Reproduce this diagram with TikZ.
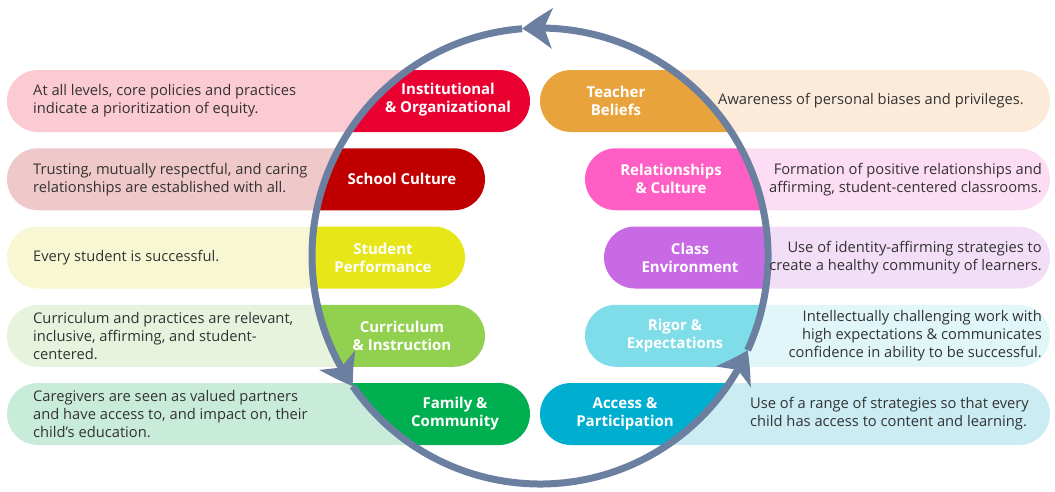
\documentclass[tikz,border=0pt]{standalone}
\usepackage{fontspec}
\setmainfont{Open Sans}
\usetikzlibrary{arrows.meta,bending}
\definecolor{ring}{HTML}{6B7FA0}
\definecolor{txt}{HTML}{333333}
\definecolor{cA}{HTML}{EA0030}\definecolor{lA}{HTML}{FBCAD3}
\definecolor{cB}{HTML}{C00000}\definecolor{lB}{HTML}{EFC8C9}
\definecolor{cC}{HTML}{E6E619}\definecolor{lC}{HTML}{F7F8D3}
\definecolor{cD}{HTML}{92D050}\definecolor{lD}{HTML}{E7F3DD}
\definecolor{cE}{HTML}{00B050}\definecolor{lE}{HTML}{C9EBDA}
\definecolor{cF}{HTML}{E8A33D}\definecolor{lF}{HTML}{FBEBD8}
\definecolor{cG}{HTML}{FF5EC4}\definecolor{lG}{HTML}{FDDDF3}
\definecolor{cH}{HTML}{C86AE4}\definecolor{lH}{HTML}{F2DEF6}
\definecolor{cI}{HTML}{7EDDE8}\definecolor{lI}{HTML}{E1F6F9}
\definecolor{cJ}{HTML}{00AED0}\definecolor{lJ}{HTML}{CBECF3}
\tikzset{
  desc/.style={text=txt,font=\fontsize{14.7}{18}\selectfont,inner sep=0pt},
  lbl/.style={text=white,font=\bfseries\fontsize{15}{18}\selectfont,align=center,inner sep=0pt},
  ringline/.style={draw=ring,line width=7pt,-{Stealth[length=30pt,width=40pt,inset=8pt,bend]}}
}
\begin{document}
\begin{tikzpicture}[x=1pt,y=1pt]
\useasboundingbox (0,0) rectangle (1055,-491);
% rows: centres
\def\rA{-101}\def\rB{-179.25}\def\rC{-257.5}\def\rD{-335.75}\def\rE{-414}
% light pills left
\foreach \r/\c in {\rA/lA,\rB/lB,\rC/lC,\rD/lD,\rE/lE}{
  \fill[\c,rounded corners=31pt] (7,\r+31) rectangle (560,\r-31);}
% light pills right
\foreach \r/\c in {\rA/lF,\rB/lG,\rC/lH,\rD/lI,\rE/lJ}{
  \fill[\c,rounded corners=31pt] (520,\r+31) rectangle (1050,\r-31);}
% circle interior
\coordinate (ctr) at (540,-256);
\fill[white] (ctr) circle[radius=228];
% coloured pills clipped to the circle
\begin{scope}
\clip (ctr) circle[radius=228];
\fill[cA,rounded corners=31pt] (250,\rA+31) rectangle (530,\rA-31);
\fill[cB,rounded corners=31pt] (250,\rB+31) rectangle (485,\rB-31);
\fill[cC,rounded corners=31pt] (250,\rC+31) rectangle (465,\rC-31);
\fill[cD,rounded corners=31pt] (250,\rD+31) rectangle (485,\rD-31);
\fill[cE,rounded corners=31pt] (250,\rE+31) rectangle (530,\rE-31);
\fill[cF,rounded corners=31pt] (540,\rA+31) rectangle (830,\rA-31);
\fill[cG,rounded corners=31pt] (585,\rB+31) rectangle (830,\rB-31);
\fill[cH,rounded corners=31pt] (604,\rC+31) rectangle (830,\rC-31);
\fill[cI,rounded corners=31pt] (585,\rD+31) rectangle (830,\rD-31);
\fill[cJ,rounded corners=31pt] (540,\rE+31) rectangle (830,\rE-31);
\end{scope}
% ring with arrows (counter-clockwise)
\draw[ringline] (ctr) ++(214.8:228) arc[start angle=214.8,end angle=335.6,radius=228];
\draw[ringline] (ctr) ++(-24.4:228) arc[start angle=-24.4,end angle=94.5,radius=228];
\draw[ringline] (ctr) ++(94.5:228) arc[start angle=94.5,end angle=214.8,radius=228];
% coloured labels
\node[lbl] (inst) at (448,-100) {Institutional\\\& Organizational};
\node[lbl] (school) at (402,\rB) {School Culture};
\node[lbl] (stud) at (383,\rC) {Student\\Performance};
\node[lbl] (curr) at (402,\rD) {Curriculum\\\& Instruction};
\node[lbl] (fam) at (455,\rE) {Family \&\\Community};
\node[lbl] (teach) at (616,\rA) {Teacher\\Beliefs};
\node[lbl] (rel) at (671,\rB) {Relationships\\\& Culture};
\node[lbl] (class) at (690,\rC) {Class\\Environment};
\node[lbl] (rigor) at (675,\rD) {Rigor \&\\Expectations};
\node[lbl] (access) at (625,\rE) {Access \&\\Participation};
% descriptions left
\node[desc,anchor=west,align=left] (dA) at (33,\rA) {At all levels, core policies and practices\\indicate a prioritization of equity.};
\node[desc,anchor=west,align=left] (dB) at (33,\rB) {Trusting, mutually respectful, and caring\\relationships are established with all.};
\node[desc,anchor=west,align=left] (dC) at (33,\rC) {Every student is successful.};
\node[desc,anchor=west,align=left] (dD) at (33,\rD) {Curriculum and practices are relevant,\\inclusive, affirming, and student-\\centered.};
\node[desc,anchor=west,align=left] (dE) at (33,\rE) {Caregivers are seen as valued partners\\and have access to, and impact on, their\\child’s education.};
% descriptions right
\node[desc,anchor=west,align=left] (dF) at (718,\rA) {Awareness of personal biases and privileges.};
\node[desc,anchor=east,align=right] (dG) at (1042,\rB) {Formation of positive relationships and\\affirming, student-centered classrooms.};
\node[desc,anchor=east,align=right] (dH) at (1042,\rC) {Use of identity-affirming strategies to\\create a healthy community of learners.};
\node[desc,anchor=east,align=right] (dI) at (1042,\rD) {Intellectually challenging work with\\high expectations \& communicates\\confidence in ability to be successful.};
\node[desc,anchor=west,align=left] (dJ) at (750,\rE) {Use of a range of strategies so that every\\child has access to content and learning.};
\end{tikzpicture}
\end{document}
